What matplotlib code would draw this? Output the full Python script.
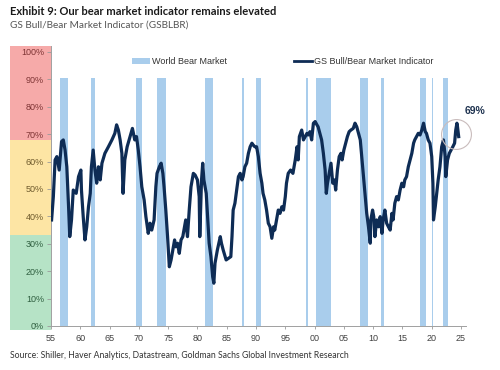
import matplotlib
matplotlib.use("Agg")
import matplotlib.pyplot as plt
import matplotlib.transforms as mtransforms
from matplotlib.patches import Rectangle, Patch
from matplotlib.lines import Line2D

# GS Bull/Bear Market Indicator (year, %)
years = [1955.1, 1955.4, 1955.7, 1956.0, 1956.4, 1956.8, 1957.1, 1957.4, 1957.7, 1958.0,
         1958.2, 1958.5, 1958.8, 1959.3, 1959.7, 1960.1, 1960.2, 1960.5, 1960.8, 1961.1,
         1961.4, 1961.7, 1961.9, 1962.2, 1962.5, 1962.8, 1963.1, 1963.4, 1963.7, 1964.2,
         1964.8, 1965.4, 1965.9, 1966.2, 1966.5, 1966.8, 1967.1, 1967.3, 1967.6, 1968.0,
         1968.5, 1968.9, 1969.3, 1969.6, 1969.9, 1970.2, 1970.5, 1970.9, 1971.2, 1971.6,
         1971.9, 1972.2, 1972.6, 1972.9, 1973.1, 1973.5, 1973.8, 1974.1, 1974.3, 1974.6,
         1974.9, 1975.2, 1975.5, 1975.8, 1976.1, 1976.3, 1976.6, 1976.9, 1977.2, 1977.5,
         1977.8, 1978.0, 1978.3, 1978.6, 1978.9, 1979.3, 1979.6, 1980.0, 1980.3, 1980.4,
         1980.7, 1980.9, 1981.1, 1981.5, 1981.8, 1982.0, 1982.3, 1982.6, 1982.8, 1983.0,
         1983.4, 1983.9, 1984.1, 1984.4, 1984.9, 1985.3, 1985.7, 1985.9, 1986.1, 1986.4,
         1986.7, 1987.0, 1987.3, 1987.6, 1987.8, 1988.1, 1988.4, 1988.7, 1989.0, 1989.3,
         1989.5, 1989.8, 1990.1, 1990.4, 1990.7, 1991.0, 1991.2, 1991.5, 1991.8, 1992.1,
         1992.4, 1992.7, 1993.0, 1993.2, 1993.5, 1993.8, 1994.1, 1994.4, 1994.7, 1995.0,
         1995.2, 1995.5, 1995.9, 1996.3, 1996.7, 1997.0, 1997.2, 1997.4, 1997.8, 1998.1,
         1998.4, 1998.7, 1998.9, 1999.2, 1999.5, 1999.8, 2000.1, 2000.4, 2000.6, 2000.9,
         2001.2, 2001.5, 2001.8, 2002.0, 2002.2, 2002.5, 2002.8, 2003.1, 2003.4, 2003.6,
         2003.9, 2004.2, 2004.5, 2004.7, 2005.0, 2005.3, 2005.6, 2005.9, 2006.2, 2006.6,
         2006.9, 2007.2, 2007.5, 2007.8, 2008.0, 2008.3, 2008.6, 2008.9, 2009.2, 2009.5,
         2009.6, 2009.9, 2010.1, 2010.3, 2010.6, 2010.9, 2011.2, 2011.5, 2011.7, 2012.0,
         2012.3, 2012.6, 2012.9, 2013.2, 2013.4, 2013.7, 2014.0, 2014.3, 2014.6, 2014.9,
         2015.2, 2015.4, 2015.7, 2016.0, 2016.3, 2016.6, 2016.9, 2017.1, 2017.4, 2017.7,
         2018.0, 2018.3, 2018.6, 2018.9, 2019.1, 2019.4, 2019.7, 2020.0, 2020.2, 2020.3,
         2020.6, 2020.9, 2021.1, 2021.4, 2021.7, 2022.0, 2022.3, 2022.4, 2022.7, 2023.0,
         2023.3, 2023.6, 2023.9, 2024.1, 2024.3, 2024.4, 2024.6]
indicator = [38.7, 47.2, 60.6, 61.8, 56.9, 67.3, 67.9, 64.2, 58.1, 43.5,
             32.6, 38.7, 49.6, 48.4, 54.5, 56.9, 49.6, 39.9, 31.4, 36.2,
             43.5, 48.4, 58.1, 64.2, 56.9, 52.1, 58.1, 53.3, 59.4, 63.0,
             65.4, 67.9, 70.3, 73.4, 71.5, 67.9, 63.0, 48.4, 60.6, 65.4,
             69.1, 72.1, 67.9, 69.1, 64.2, 58.1, 50.8, 46.0, 39.9, 33.8,
             37.5, 35.0, 38.7, 50.8, 55.7, 58.1, 59.4, 55.7, 50.8, 42.3,
             32.6, 21.6, 24.1, 27.7, 31.4, 28.9, 30.2, 26.5, 31.4, 32.6,
             36.2, 38.7, 32.6, 42.3, 50.8, 55.7, 55.1, 53.3, 47.2, 32.6,
             53.3, 59.4, 53.3, 48.4, 37.5, 30.2, 25.3, 18.0, 15.6, 22.9,
             27.7, 32.6, 30.2, 27.7, 24.1, 24.7, 25.3, 32.6, 42.3, 44.8,
             49.6, 54.5, 55.7, 53.3, 54.5, 58.1, 59.4, 63.0, 65.4, 66.7,
             66.1, 65.4, 65.4, 61.8, 55.7, 52.1, 48.4, 46.0, 42.3, 37.5,
             36.2, 32.0, 36.2, 35.0, 38.7, 42.3, 41.1, 43.5, 42.3, 47.2,
             52.1, 55.7, 56.9, 55.7, 60.6, 65.4, 60.6, 69.1, 71.5, 67.9,
             69.1, 70.3, 69.7, 70.9, 67.9, 74.0, 74.6, 73.4, 72.7, 70.3,
             67.9, 63.0, 56.9, 48.4, 52.1, 55.7, 59.4, 52.1, 53.3, 49.6,
             56.9, 61.8, 63.0, 60.6, 64.2, 66.7, 69.1, 70.9, 71.5, 72.1,
             74.0, 72.7, 70.3, 67.9, 63.0, 55.7, 48.4, 41.1, 36.2, 30.2,
             38.7, 42.3, 39.9, 32.6, 38.7, 36.2, 39.9, 33.8, 38.7, 42.3,
             37.5, 36.2, 35.0, 41.1, 38.7, 44.8, 47.2, 46.0, 49.6, 52.1,
             50.8, 53.3, 54.5, 58.1, 60.6, 63.0, 66.7, 67.9, 69.1, 70.3,
             69.7, 71.5, 74.0, 70.9, 70.3, 67.9, 66.7, 61.8, 52.1, 38.7,
             43.5, 49.6, 53.3, 58.1, 65.4, 67.9, 61.8, 54.5, 60.6, 63.0,
             64.2, 65.4, 66.7, 71.5, 74.0, 72.7, 69.1]

# World bear market periods (start, end)
bear_start = [1956.6, 1961.8, 1969.5, 1973.1, 1981.3, 1987.6, 1990.0, 1998.6, 2000.3,
              2007.8, 2011.3, 2018.0, 2020.05, 2021.9]
bear_end = [1957.9, 1962.5, 1970.5, 1974.7, 1982.6, 1987.9, 1990.8, 1998.9, 2002.8,
            2009.1, 2011.8, 2019.0, 2020.3, 2022.8]

# background zones on the y axis: (low, high, fill, label colour)
zones = [(-1.5, 33.3, '#b6e3c6', '#2f5f40'),
         (33.3, 68.0, '#fde5a4', '#6e5a2c'),
         (68.0, 102.2, '#f6aaa9', '#7e3434')]

xticks = list(range(1955, 2026, 5))
xlabels = [str(y)[2:] for y in xticks]
yticks = list(range(0, 101, 10))

navy = '#0e2c55'
bear_col = '#a9cdec'
head_font = 'Lato'

fig = plt.figure(figsize=(5, 3.7), dpi=100)
ax = fig.add_axes([0.102, 0.119, 0.83, 0.7554])

for s, e in zip(bear_start, bear_end):
    ax.axvspan(s, e, ymin=0, ymax=90.5 / 102, color=bear_col, lw=0, zorder=1)

ax.plot(years, indicator, color=navy, lw=2.3, zorder=3)

ax.set_xlim(1955, 2025.85)
ax.set_ylim(0, 102)

# coloured zones to the left of the axis
trans = mtransforms.blended_transform_factory(ax.transAxes, ax.transData)
for lo, hi, fc, tc in zones:
    ax.add_patch(Rectangle((-0.099, lo), 0.099, hi - lo, transform=trans,
                           facecolor=fc, edgecolor='none', clip_on=False, zorder=0))

ax.set_yticks(yticks)
ax.set_yticklabels([f'{v}%' for v in yticks], fontsize=6.5, family='Liberation Sans')
for lab, v in zip(ax.get_yticklabels(), yticks):
    for lo, hi, fc, tc in zones:
        if lo <= v < hi:
            lab.set_color(tc)
ax.set_xticks(xticks)
ax.set_xticklabels(xlabels, fontsize=6.5, family='Liberation Sans', color='#404040')
ax.tick_params(axis='y', length=3, width=0.6, color='#999999', pad=2)
ax.tick_params(axis='x', length=2, width=0.6, color='#999999', pad=4)

for sp in ['top', 'right']:
    ax.spines[sp].set_visible(False)
for sp in ['left', 'bottom']:
    ax.spines[sp].set_color('#a0a0a0')
    ax.spines[sp].set_linewidth(0.7)

handles = [Patch(facecolor=bear_col, edgecolor='none'),
           Line2D([0], [0], color=navy, lw=2)]
leg = ax.legend(handles, ['World Bear Market', 'GS Bull/Bear Market Indicator'],
                ncol=2, loc='center', bbox_to_anchor=(0.558, 0.945), frameon=False,
                prop={'family': 'Liberation Sans', 'size': 6.5}, handlelength=2.0,
                handleheight=0.6, columnspacing=7.5, handletextpad=0.2)
for t in leg.get_texts():
    t.set_color('#333333')

# highlight of the latest reading
ax.plot([2024.1], [70.0], marker='o', ms=21.5, mfc='none', mec='#c9bcbc', mew=0.8,
        zorder=4, clip_on=False)
ax.text(2027.4, 78.6, '69%', ha='center', va='center', fontsize=7.5, fontweight='bold',
        color='#1f3350', family='Liberation Sans')

fig.text(0.02, 1 - 11.5 / 370, 'Exhibit 9: Our bear market indicator remains elevated',
         fontsize=8, fontweight='bold', color='#1a1a1a', va='center', family=head_font)
fig.text(0.02, 1 - 25.5 / 370, 'GS Bull/Bear Market Indicator (GSBLBR)',
         fontsize=7.2, color='#555555', va='center', family=head_font)
fig.text(0.02, 1 - 355 / 370,
         'Source: Shiller, Haver Analytics, Datastream, Goldman Sachs Global Investment Research',
         fontsize=6.2, color='#333333', va='center', family=head_font)

fig.savefig('out.png', dpi=100)
